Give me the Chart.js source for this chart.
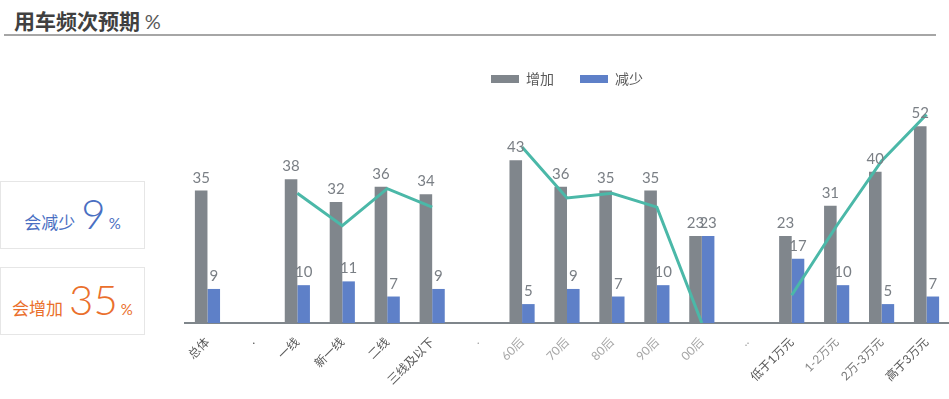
<!DOCTYPE html>
<html>
<head>
<meta charset="utf-8">
<script src="https://cdn.jsdelivr.net/npm/chart.js@4.4.0/dist/chart.umd.min.js"></script>
<style>
  body { margin: 0; width: 949px; height: 399px; background: #fff; position: relative; overflow: hidden;
         font-family: Lato, "Noto Sans CJK SC", sans-serif; }
  .title { position: absolute; left: 14px; top: 5px; font-size: 21px; font-weight: bold; color: #404040;
           font-family: "Noto Sans CJK SC", sans-serif; }
  .title span { font-weight: normal; color: #595959; font-size: 20px; font-family: Lato, sans-serif; }
  .rule { position: absolute; left: 4px; top: 34px; width: 932px; height: 2px; background: #a6a6a6; }
  .box { position: absolute; left: 0; width: 145px; height: 68px; border: 1px solid #e6e6e6; box-sizing: border-box;
         display: flex; align-items: baseline; justify-content: center; white-space: nowrap; padding-top: 6px; }
  .box .lbl { font-size: 17px; font-family: "Noto Sans CJK SC", sans-serif; margin-right: 6px; }
  .box .num { font-size: 42px; font-weight: 300; font-family: Lato, sans-serif; }
  .box .pct { font-size: 15px; margin-left: 3px; }
  #down { top: 181px; color: #4a6fc2; }
  #up { top: 267px; color: #ea6f2c; }
  #wrap { position: absolute; left: 150px; top: 40px; width: 799px; height: 359px; }
</style>
</head>
<body>
<div class="title">用车频次预期 <span>%</span></div>
<div class="rule"></div>
<div class="box" id="down"><span class="lbl">会减少</span><span class="num">9</span><span class="pct">%</span></div>
<div class="box" id="up"><span class="lbl">会增加</span><span class="num">35</span><span class="pct">%</span></div>
<div id="wrap"><canvas id="freqChart"></canvas></div>
<script>
// categories (blank slots separate the groups)
const categories = ['总体', '.', '一线', '新一线', '二线', '三线及以下', '.', '60后', '70后', '80后', '90后', '00后',
  '..', '低于1万元', '1-2万元', '2万-3万元', '高于3万元'];
const increase = [35, null, 38, 32, 36, 34, null, 43, 36, 35, 35, 23, null, 23, 31, 40, 52];
const decrease = [9, null, 10, 11, 7, 9, null, 5, 9, 7, 10, 23, null, 17, 10, 5, 7];
// net line (increase - decrease), on its own axis
const net = [null, null, 28, 21, 29, 25, null, 38, 27, 28, 25, 0, null, 6, 21, 35, 45];
const tickColors = ['#595959', '#595959', '#595959', '#595959', '#595959', '#595959', '#a6a6a6',
  '#a6a6a6', '#a6a6a6', '#a6a6a6', '#a6a6a6', '#a6a6a6', '#a6a6a6', '#595959', '#8c8c8c', '#737373', '#595959'];

// value labels above the bars
const valueLabels = {
  id: 'valueLabels',
  afterDatasetsDraw(chart) {
    const ctx = chart.ctx;
    ctx.save();
    ctx.font = '15px Lato, "Noto Sans CJK SC"';
    ctx.fillStyle = '#7a7f85';
    ctx.textAlign = 'center';
    ctx.textBaseline = 'alphabetic';
    [0, 1].forEach(i => {
      chart.getDatasetMeta(i).data.forEach((bar, j) => {
        const v = chart.data.datasets[i].data[j];
        if (v == null) return;
        ctx.fillText(v, bar.x, bar.y - 8);
      });
    });
    ctx.restore();
  }
};

const ctx = document.getElementById('freqChart').getContext('2d');
const freqChart = new Chart(ctx, {
  type: 'bar',
  data: {
    labels: categories,
    datasets: [
      { label: '增加', data: increase, backgroundColor: '#80868c', order: 1,
        categoryPercentage: 0.56, barPercentage: 1.0 },
      { label: '减少', data: decrease, backgroundColor: '#5e80c8', order: 1,
        categoryPercentage: 0.56, barPercentage: 1.0 },
      { type: 'line', label: '净增', data: net, yAxisID: 'y2', borderColor: '#4bb8a8', borderWidth: 3,
        pointRadius: 0, fill: false, tension: 0, spanGaps: false, order: 0 }
    ]
  },
  options: {
    responsive: true,
    maintainAspectRatio: false,
    animation: false,
    layout: { padding: { left: 35, right: 0, top: 6, bottom: 0 } },
    plugins: {
      tooltip: { enabled: false },
      legend: {
        position: 'top',
        labels: {
          boxWidth: 28,
          boxHeight: 8,
          padding: 26,
          color: '#595959',
          font: { size: 14, family: '"Noto Sans CJK SC"' },
          filter: item => item.datasetIndex < 2
        }
      }
    },
    scales: {
      x: {
        grid: { display: false },
        border: { color: '#7f868b', width: 2 },
        ticks: {
          autoSkip: false,
          maxRotation: 45,
          minRotation: 45,
          padding: 4,
          font: { size: 12, family: 'Lato, "Noto Sans CJK SC"' },
          color: c => tickColors[c.index]
        },
        afterFit: scale => { scale.height = 76; }
      },
      y: { display: false, min: 0, max: 60 },
      y2: { display: false, min: 0, max: 49 }
    }
  },
  plugins: [valueLabels]
});
</script>
</body>
</html>
